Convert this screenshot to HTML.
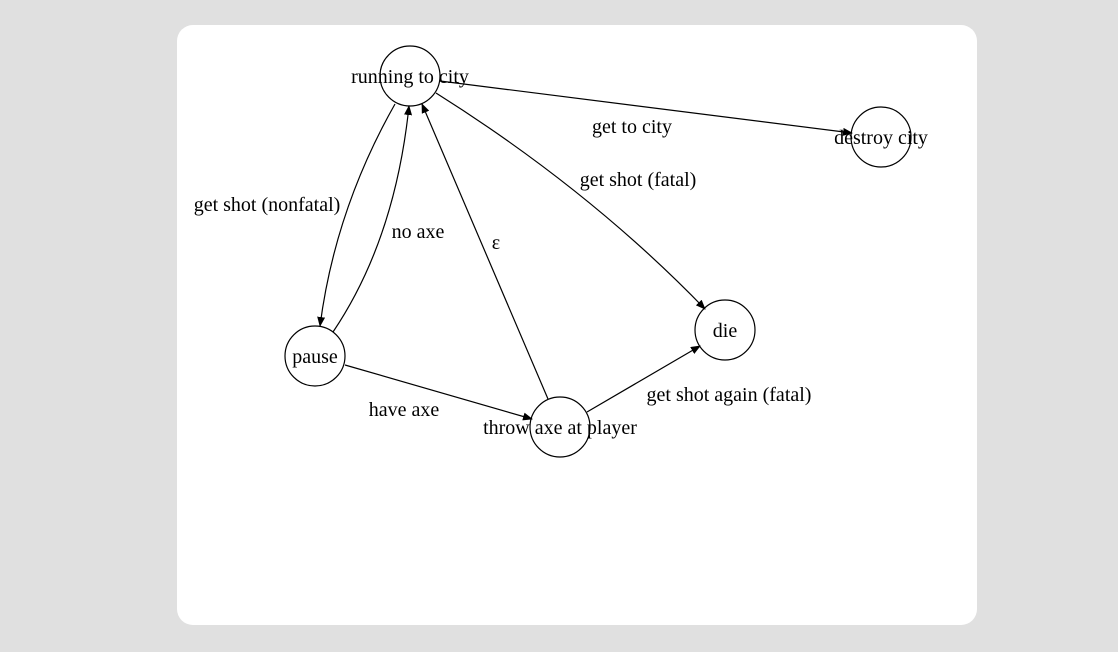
<!DOCTYPE html>
<html><head><style>
body{margin:0;background:#e0e0e0;width:1118px;height:652px;overflow:hidden}
.card{position:absolute;left:177px;top:25px;width:800px;height:600px;background:#fff;border-radius:16px}
svg{position:absolute;left:0;top:0}
text{font-family:"Liberation Serif",serif;font-size:20px;fill:#000}
</style></head><body>
<div class="card"></div>
<svg width="1118" height="652" viewBox="0 0 1118 652">
<defs><marker id="a" markerWidth="10" markerHeight="8" refX="9" refY="4" orient="auto" markerUnits="userSpaceOnUse"><path d="M0,0 L10,4 L0,8 z" fill="#000"/></marker></defs>
<g fill="none" stroke="#000" stroke-width="1.2">
<circle cx="410" cy="76" r="30" fill="#fff"/>
<circle cx="881" cy="137" r="30" fill="#fff"/>
<circle cx="725" cy="330" r="30" fill="#fff"/>
<circle cx="315" cy="356" r="30" fill="#fff"/>
<circle cx="560" cy="427" r="30" fill="#fff"/>
<path d="M440,81 L852,133" marker-end="url(#a)"/>
<path d="M395,104 Q335,210 320,326" marker-end="url(#a)"/>
<path d="M333,332 Q395,240 409,106" marker-end="url(#a)"/>
<path d="M436,93 Q590,190 705,309" marker-end="url(#a)"/>
<path d="M548,399 L422,104" marker-end="url(#a)"/>
<path d="M345,365 L532,419" marker-end="url(#a)"/>
<path d="M587,412 L700,346" marker-end="url(#a)"/>
</g>
<g text-anchor="middle">
<text x="410" y="83">running to city</text>
<text x="881" y="144">destroy city</text>
<text x="725" y="337">die</text>
<text x="315" y="363">pause</text>
<text x="560" y="434">throw axe at player</text>
<text x="632" y="133">get to city</text>
<text x="638" y="186">get shot (fatal)</text>
<text x="267" y="211">get shot (nonfatal)</text>
<text x="418" y="238">no axe</text>
<text x="496" y="249">ε</text>
<text x="404" y="416">have axe</text>
<text x="729" y="401">get shot again (fatal)</text>
</g>
</svg>
</body></html>
